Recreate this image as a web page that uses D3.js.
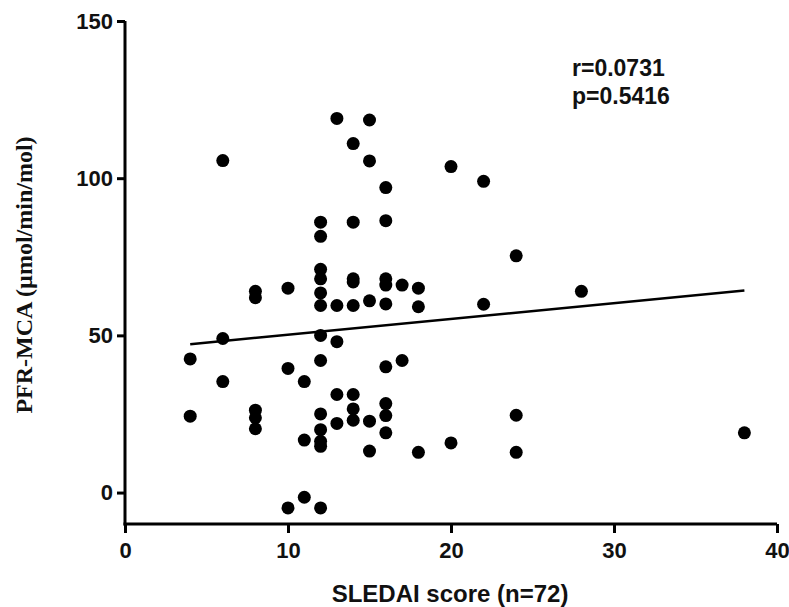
<!DOCTYPE html>
<html>
<head>
<meta charset="utf-8">
<script src="https://cdn.jsdelivr.net/npm/d3@7"></script>
<style>
  html, body { margin: 0; padding: 0; background: #fff; }
  svg { display: block; }
  .tick text { font-family: "Liberation Sans", Arial, sans-serif; font-weight: bold; font-size: 22px; fill: #111; }
</style>
</head>
<body>
<svg id="chart" width="789" height="607"></svg>
<script>
(function () {
  'use strict';

  // SLEDAI score (x) and PFR-MCA (y)
  const sledai = [6, 13, 15, 14, 15, 16, 12, 12, 14, 16,
    12, 12, 14, 14, 16, 16, 17, 8, 8, 10,
    12, 12, 13, 14, 15, 16, 6, 4, 12, 13,
    12, 10, 16, 17, 6, 11, 4, 8, 8, 8,
    12, 12, 12, 12, 11, 13, 13, 14, 14, 14,
    15, 15, 16, 16, 16, 10, 11, 12, 20, 22,
    24, 18, 18, 22, 28, 18, 20, 24, 24, 38];
  const pfrMca = [105.6, 119, 118.5, 111, 105.5, 97, 86, 81.5, 86, 86.5,
    71, 68, 68, 67, 68, 66, 66, 64, 62, 65,
    63.5, 59.5, 59.5, 59.5, 61, 60, 49, 42.5, 50, 48,
    42, 39.5, 40, 42, 35.3, 35.3, 24.3, 26.2, 23.8, 20.3,
    25, 20, 16.3, 14.7, 16.7, 31.2, 22, 31.2, 26.6, 23,
    22.7, 13.2, 28.3, 24.5, 19, -4.9, -1.5, -4.9, 103.7, 99,
    75.3, 65, 59.1, 59.9, 64, 12.8, 15.8, 24.6, 12.8, 19];

  // regression line as drawn (x from 4 to 38)
  const fitX = [4, 38];
  const fitIntercept = 45.2;
  const fitSlope = 0.502;

  const xTicks = [0, 10, 20, 30, 40];
  const yTicks = [0, 50, 100, 150];
  const statLines = ['r=0.0731', 'p=0.5416'];

  const svg = d3.select('#chart');

  const x = d3.scaleLinear().domain([0, 40]).range([125, 777]);
  const y = d3.scaleLinear().domain([-10, 150]).range([524, 21]);

  // y axis
  const gy = svg.append('g')
    .attr('transform', `translate(${x(0)},0)`)
    .call(d3.axisLeft(y).tickValues(yTicks).tickSize(8).tickPadding(4).tickSizeOuter(0));
  gy.select('.domain').attr('stroke', '#000').attr('stroke-width', 3)
    .attr('d', `M0,${y(150)}V${y(-10) + 1.5}`);
  gy.selectAll('.tick line').attr('stroke', '#000').attr('stroke-width', 3);

  // x axis
  const gx = svg.append('g')
    .attr('transform', `translate(0,${y(-10)})`)
    .call(d3.axisBottom(x).tickValues(xTicks).tickSize(9).tickPadding(6).tickSizeOuter(0));
  gx.select('.domain').attr('stroke', '#000').attr('stroke-width', 3)
    .attr('d', `M${x(0) - 1.5},0H${x(40)}`);
  gx.selectAll('.tick line').attr('stroke', '#000').attr('stroke-width', 3);
  gx.selectAll('.tick text').attr('dy', '0.85em');

  // regression line
  svg.append('line')
    .attr('x1', x(fitX[0])).attr('y1', y(fitIntercept + fitSlope * fitX[0]))
    .attr('x2', x(fitX[1])).attr('y2', y(fitIntercept + fitSlope * fitX[1]))
    .attr('stroke', '#000').attr('stroke-width', 2.5);

  // points
  svg.append('g').selectAll('circle')
    .data(d3.range(sledai.length))
    .join('circle')
    .attr('cx', i => x(sledai[i]))
    .attr('cy', i => y(pfrMca[i]))
    .attr('r', 6.5)
    .attr('fill', '#000');

  // stats text
  svg.append('text')
    .attr('x', 572).attr('y', 76)
    .attr('font-family', '"Liberation Sans", Arial, sans-serif')
    .attr('font-weight', 'bold').attr('font-size', 23).attr('fill', '#111')
    .selectAll('tspan').data(statLines).join('tspan')
    .attr('x', 572).attr('dy', (d, i) => i ? 28 : 0)
    .text(d => d);

  // axis titles
  svg.append('text')
    .attr('x', 450).attr('y', 602)
    .attr('text-anchor', 'middle')
    .attr('font-family', '"Liberation Sans", Arial, sans-serif')
    .attr('font-weight', 'bold').attr('font-size', 24).attr('fill', '#111')
    .text('SLEDAI score (n=72)');

  svg.append('text')
    .attr('transform', 'translate(32,275) rotate(-90)')
    .attr('text-anchor', 'middle')
    .attr('font-family', '"Liberation Serif", "Times New Roman", serif')
    .attr('font-weight', 'bold').attr('font-size', 24).attr('fill', '#111')
    .text('PFR-MCA (\u00b5mol/min/mol)');
})();
</script>
</body>
</html>
